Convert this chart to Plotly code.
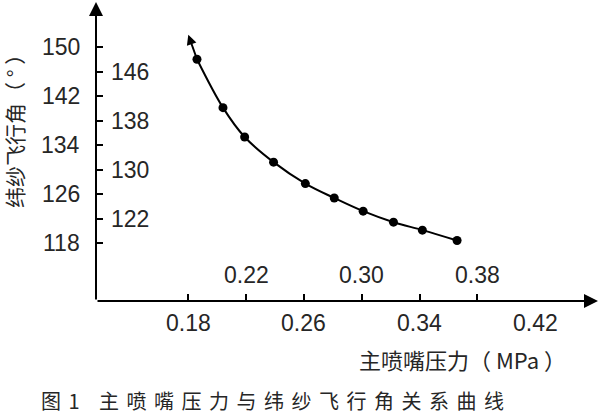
import plotly.graph_objects as go

# ---- data ----
pressure = [0.186, 0.204, 0.219, 0.239, 0.261, 0.281, 0.301, 0.322, 0.342, 0.366]
angle = [148.0, 140.1, 135.3, 131.2, 127.7, 125.35, 123.2, 121.4, 120.1, 118.4]
arrow_tip_x = 0.180
arrow_tip_y = 152.0

x_tick_marks = [0.18, 0.22, 0.26, 0.30, 0.34, 0.38]
x_labels_upper = [0.22, 0.30, 0.38]
x_labels_lower = [0.18, 0.26, 0.34, 0.42]
y_tick_marks = [118, 122, 126, 130, 134, 138, 142, 146, 150]
y_labels_left = [150, 142, 134, 126, 118]
y_labels_right = [146, 138, 130, 122]

x_title = "主喷嘴压力（ MPa ）"
y_title = "纬纱飞行角（ ° ）"
caption = "图1 主喷嘴压力与纬纱飞行角关系曲线"

X_RANGE = [0.11612, 0.46353]
Y_RANGE = [108.53, 157.35]

NUM_FONT = "Liberation Sans, Arial, sans-serif"
CJK_FONT = "Noto Sans CJK SC, sans-serif"
TXT = "#262626"

fig = go.Figure()
fig.add_trace(go.Scatter(
    x=pressure, y=angle, mode="lines+markers",
    line=dict(color="black", width=2, shape="spline", smoothing=1),
    marker=dict(color="black", size=9),
    cliponaxis=False, hoverinfo="skip",
))

ann = []
# axis lines with arrowheads
ann.append(dict(x=X_RANGE[1], y=Y_RANGE[0], ax=X_RANGE[0], ay=Y_RANGE[0],
                xref="x", yref="y", axref="x", ayref="y", text="",
                showarrow=True, arrowhead=2, arrowsize=1.4, arrowwidth=2,
                arrowcolor="black", standoff=0))
ann.append(dict(x=X_RANGE[0], y=Y_RANGE[1], ax=X_RANGE[0], ay=Y_RANGE[0],
                xref="x", yref="y", axref="x", ayref="y", text="",
                showarrow=True, arrowhead=2, arrowsize=1.4, arrowwidth=2,
                arrowcolor="black", standoff=0))
# curve arrow
ann.append(dict(x=arrow_tip_x, y=arrow_tip_y, ax=pressure[0], ay=angle[0],
                xref="x", yref="y", axref="x", ayref="y", text="",
                showarrow=True, arrowhead=2, arrowsize=1.0, arrowwidth=2,
                arrowcolor="black", standoff=0))

# staggered tick labels
for v in y_labels_left:
    ann.append(dict(x=0, xref="x domain", y=v, yref="y", text=str(v),
                    showarrow=False, xanchor="right", yanchor="middle",
                    xshift=-14, font=dict(family=NUM_FONT, size=23, color=TXT)))
for v in y_labels_right:
    ann.append(dict(x=0, xref="x domain", y=v, yref="y", text=str(v),
                    showarrow=False, xanchor="left", yanchor="middle",
                    xshift=13, font=dict(family=NUM_FONT, size=23, color=TXT)))
for v in x_labels_upper:
    ann.append(dict(x=v, xref="x", y=0, yref="y domain", text=f"{v:.2f}",
                    showarrow=False, xanchor="center", yanchor="middle",
                    yshift=26, font=dict(family=NUM_FONT, size=23, color=TXT)))
for v in x_labels_lower:
    ann.append(dict(x=v, xref="x", y=0, yref="y domain", text=f"{v:.2f}",
                    showarrow=False, xanchor="center", yanchor="middle",
                    yshift=-22, font=dict(family=NUM_FONT, size=23, color=TXT)))

# titles
ann.append(dict(x=-0.1633, y=0.5853, xref="paper", yref="paper", text=y_title,
                textangle=-90, showarrow=False, xanchor="center", yanchor="middle",
                borderpad=0, font=dict(family=CJK_FONT, size=21, color=TXT)))
ann.append(dict(x=0.7291, y=-0.194, xref="paper", yref="paper", text=x_title,
                showarrow=False, xanchor="center", yanchor="middle",
                font=dict(family=CJK_FONT, size=22, color=TXT)))
ann.append(dict(x=0.3586, y=-0.3344, xref="paper", yref="paper",
                text='<span style="letter-spacing:7.5px">' + caption + '</span>',
                showarrow=False, xanchor="center", yanchor="middle",
                borderpad=0, font=dict(family=CJK_FONT, size=20, color=TXT)))

fig.update_layout(
    width=600, height=415,
    margin=dict(l=96, r=2, t=2, b=114),
    paper_bgcolor="white", plot_bgcolor="white",
    showlegend=False,
    xaxis=dict(range=X_RANGE, showgrid=False, zeroline=False, showline=False,
               tickmode="array", tickvals=x_tick_marks, ticks="inside",
               ticklen=7, tickwidth=2, tickcolor="black", showticklabels=False,
               fixedrange=True),
    yaxis=dict(range=Y_RANGE, showgrid=False, zeroline=False, showline=False,
               tickmode="array", tickvals=y_tick_marks, ticks="inside",
               ticklen=7, tickwidth=2, tickcolor="black", showticklabels=False,
               fixedrange=True),
    annotations=ann,
)

fig.write_html("out.html", config={"displayModeBar": False},
               post_script="document.body.style.margin='0';document.body.style.overflow='hidden';")
